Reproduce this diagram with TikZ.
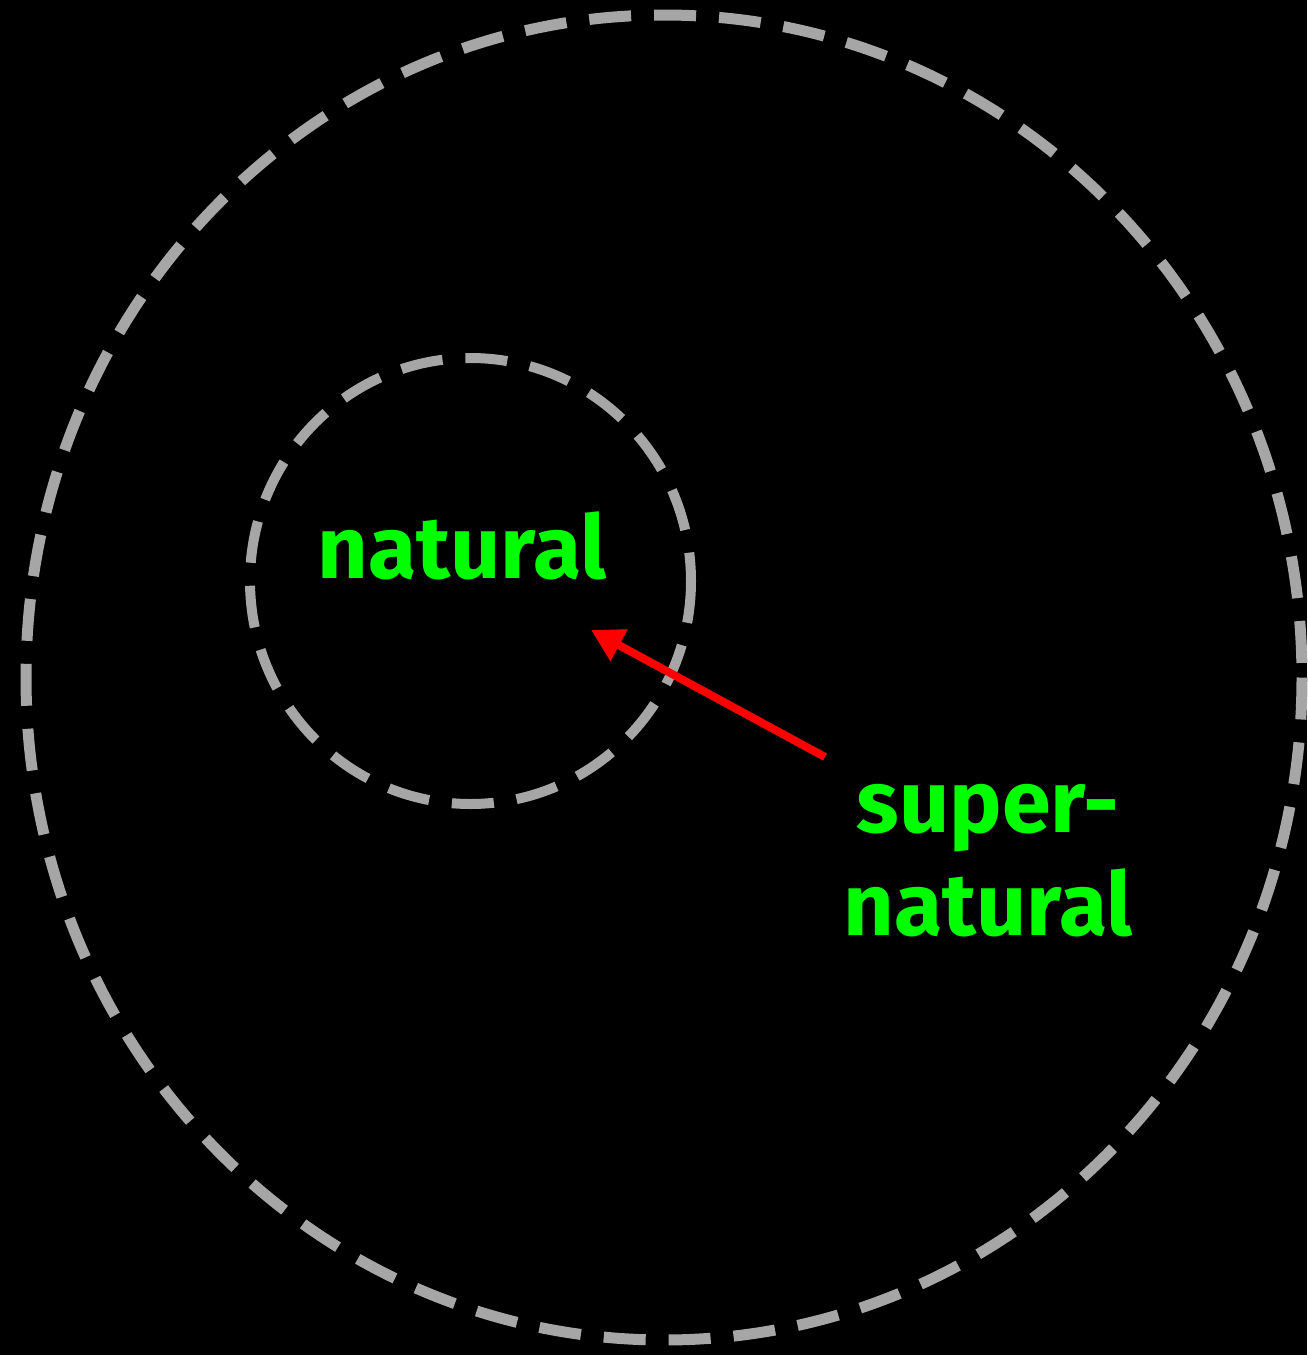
\documentclass[tikz,border=0pt]{standalone}
\usepackage{fontspec}
\setmainfont{Fira Sans}[BoldFont={Fira Sans Bold}]
\usetikzlibrary{arrows.meta}
\definecolor{dashgray}{HTML}{A6A6A6}
\definecolor{lblgreen}{HTML}{00FF00}
\definecolor{arrred}{HTML}{FF0000}
\tikzset{
  ring/.style={draw=dashgray, dash pattern=on 42pt off 23pt},
  lbl/.style={text=lblgreen, font=\fontsize{88}{103}\selectfont\bfseries, inner sep=0pt, align=center},
  pointer/.style={draw=arrred, line width=8pt, -{Triangle[length=32pt,width=34pt]}}
}
\begin{document}
\begin{tikzpicture}[x=1pt,y=-1pt]
\fill[black] (0,0) rectangle (1307,1355);
\useasboundingbox (0,0) rectangle (1307,1355);
\draw[ring, line width=11pt] (664,677.5) ellipse [x radius=638, y radius=662.5];
\draw[ring, line width=10pt] (470.5,581) ellipse [x radius=220.5, y radius=223];
\node[lbl, anchor=base] (nat) at (462,578) {natural};
\node[lbl, anchor=base] (sup) at (988,935) {super-\\natural};
\coordinate (tail) at (825,757);
\coordinate (head) at (591,630);
\draw[pointer] (tail) -- (head);
\end{tikzpicture}
\end{document}
